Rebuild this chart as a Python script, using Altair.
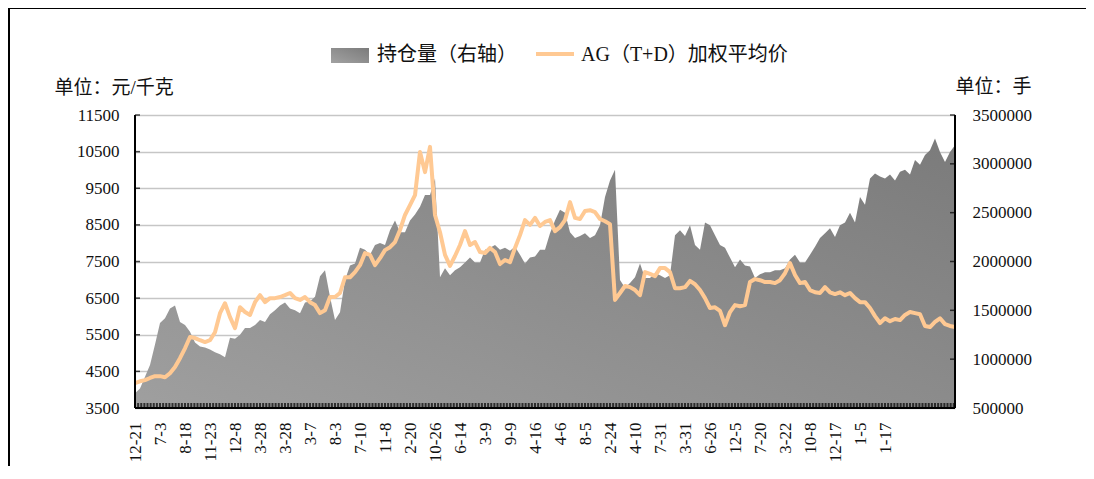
import altair as alt
import pandas as pd

# ---------------- data ----------------
date_labels = ["12-21", "7-3", "8-18", "11-23", "12-8", "3-28", "3-28", "3-7", "8-3",
               "7-10", "11-8", "2-20", "10-26", "6-14", "3-9", "9-9", "4-16", "4-6",
               "8-5", "2-24", "4-10", "7-31", "3-31", "6-26", "12-5", "7-20", "3-22",
               "10-8", "12-17", "1-5", "1-17"]

# AG(T+D) weighted average price, yuan/kg (left axis)
price = [4180, 4230, 4260, 4320, 4370, 4370, 4340, 4450, 4620, 4860,
         5130, 5440, 5410, 5350, 5300, 5350, 5570, 6090, 6360, 5980,
         5680, 6250, 6120, 6040, 6390, 6580, 6390, 6500, 6500, 6530,
         6580, 6640, 6500, 6450, 6530, 6390, 6310, 6090, 6170, 6530,
         6530, 6640, 7070, 7070, 7210, 7400, 7730, 7680, 7400, 7590,
         7810, 7890, 8030, 8360, 8770, 9040, 9310, 10490, 9940, 10630,
         8770, 8300, 7680, 7380, 7650, 7950, 8330, 7950, 8030, 7760,
         7730, 7870, 7760, 7430, 7540, 7480, 7870, 8220, 8630, 8500,
         8690, 8470, 8580, 8630, 8330, 8440, 8630, 9120, 8690, 8660,
         8880, 8900, 8850, 8660, 8600, 8520, 6450, 6640, 6830, 6800,
         6720, 6580, 7210, 7160, 7100, 7320, 7320, 7210, 6770, 6770,
         6800, 6970, 6880, 6720, 6500, 6230, 6250, 6150, 5760, 6120,
         6310, 6280, 6310, 6940, 7020, 6990, 6940, 6940, 6910, 6990,
         7180, 7460, 7130, 6910, 6940, 6720, 6660, 6640, 6800, 6660,
         6610, 6660, 6580, 6640, 6500, 6390, 6390, 6230, 6010, 5820,
         5950, 5870, 5930, 5900, 6040, 6120, 6090, 6060, 5740, 5710,
         5850, 5950, 5790, 5740, 5710]

# open interest, lots (right axis)
open_interest = [650000, 700000, 820000, 940000, 1150000, 1370000, 1420000, 1520000, 1550000, 1380000,
                 1350000, 1280000, 1170000, 1130000, 1120000, 1100000, 1070000, 1050000, 1020000, 1220000,
                 1210000, 1250000, 1320000, 1320000, 1350000, 1400000, 1380000, 1460000, 1500000, 1550000,
                 1580000, 1520000, 1500000, 1470000, 1580000, 1590000, 1640000, 1850000, 1910000, 1640000,
                 1400000, 1480000, 1810000, 1960000, 1980000, 2140000, 2120000, 2070000, 2170000, 2190000,
                 2170000, 2320000, 2420000, 2300000, 2300000, 2420000, 2480000, 2560000, 2680000, 2680000,
                 2850000, 1840000, 1930000, 1860000, 1910000, 1940000, 1990000, 2040000, 1990000, 1990000,
                 2120000, 2140000, 2170000, 2120000, 2140000, 2110000, 2150000, 2070000, 1980000, 2040000,
                 2050000, 2120000, 2120000, 2290000, 2420000, 2530000, 2500000, 2300000, 2240000, 2260000,
                 2290000, 2240000, 2270000, 2370000, 2660000, 2830000, 2940000, 1810000, 1730000, 1780000,
                 1840000, 1980000, 1830000, 1830000, 1880000, 1860000, 1830000, 1860000, 2270000, 2320000,
                 2260000, 2370000, 2170000, 2120000, 2400000, 2370000, 2270000, 2170000, 2140000, 2040000,
                 1940000, 2020000, 1960000, 1950000, 1830000, 1870000, 1890000, 1890000, 1910000, 1910000,
                 1930000, 2020000, 2070000, 1990000, 1990000, 2070000, 2150000, 2240000, 2290000, 2340000,
                 2250000, 2370000, 2400000, 2500000, 2400000, 2660000, 2580000, 2850000, 2900000, 2870000,
                 2850000, 2890000, 2830000, 2920000, 2940000, 2890000, 3040000, 2990000, 3090000, 3140000,
                 3260000, 3120000, 3020000, 3120000, 3190000]

price_ticks = [3500, 4500, 5500, 6500, 7500, 8500, 9500, 10500, 11500]
oi_ticks = [500000, 1000000, 1500000, 2000000, 2500000, 3000000, 3500000]

series_price_name = "AG（T+D）加权平均价"
series_oi_name = "持仓量（右轴）"
left_unit = "单位：元/千克"
right_unit = "单位：手"

# ---------------- layout / style ----------------
W, H = 820, 293
LABEL_STEP = 5
TICK_STEP = 0.625
NUM_FONT = "Liberation Serif"
CJK_FONT = "Liberation Serif, Noto Sans CJK SC"
ORANGE = "#FFC993"
TXT = "#111111"

N = len(price)
df = pd.DataFrame({"idx": list(range(N)), "price": price, "oi": open_interest})
one = pd.DataFrame({"k": [0]})
band_df = pd.DataFrame({"idx": [k * TICK_STEP for k in range(int((N - 1) / TICK_STEP) + 1)]})
pt_df = pd.DataFrame({"price": price_ticks})
ot_df = pd.DataFrame({"oi": oi_ticks})

label_js = "[" + ",".join("'%s'" % s for s in date_labels) + "]"
label_expr = label_js + "[round(datum.value / %d)]" % LABEL_STEP

x_scale = alt.Scale(domain=[0, N - 1], nice=False, zero=False)
x_axis = alt.Axis(values=[i * LABEL_STEP for i in range(len(date_labels))],
                  labelExpr=label_expr, labelAngle=270, labelFont=NUM_FONT,
                  labelFontSize=17, labelColor=TXT, labelPadding=14,
                  labelOverlap=False, labelFlush=False, labelBound=False,
                  ticks=False, domain=False, grid=False, title=None)

price_scale = alt.Scale(domain=[3500, 11500], nice=False, zero=False)
oi_scale = alt.Scale(domain=[500000, 3500000], nice=False, zero=False)

left_axis = alt.Axis(orient="left", values=price_ticks, format="d", grid=True,
                     gridColor="#c6c6c6", gridWidth=1.5, domain=False, ticks=False,
                     labelFont=NUM_FONT, labelFontSize=17, labelColor=TXT, labelPadding=16,
                     title=left_unit, titleAngle=0, titleX=-81, titleY=-28,
                     titleAlign="left", titleBaseline="middle", titleFont=CJK_FONT,
                     titleFontSize=19, titleFontWeight="normal", titleColor=TXT)
right_axis = alt.Axis(orient="right", values=oi_ticks, format="d", grid=False,
                      domain=False, ticks=False, labelFont=NUM_FONT, labelFontSize=17,
                      labelColor=TXT, labelPadding=17,
                      title=right_unit, titleAngle=0, titleX=0, titleY=-29,
                      titleAlign="left", titleBaseline="middle", titleFont=CJK_FONT,
                      titleFontSize=19, titleFontWeight="normal", titleColor=TXT)

gray_grad = alt.Gradient(gradient="linear",
                         stops=[alt.GradientStop(color="#a2a2a2", offset=0),
                                alt.GradientStop(color="#7b7b7b", offset=1)],
                         x1=0, y1=1, x2=1, y2=0)

# ---------------- right-axis layer (open interest) ----------------
area = alt.Chart(df).mark_area(color=gray_grad, interpolate="linear", clip=True).encode(
    x=alt.X("idx:Q", scale=x_scale, axis=x_axis),
    y=alt.Y("oi:Q", scale=oi_scale, axis=right_axis),
)
right_ticks = alt.Chart(ot_df).mark_tick(orient="horizontal", size=5, thickness=1.5,
                                         color="#000").encode(
    x=alt.value(W - 2.5),
    y=alt.Y("oi:Q", scale=oi_scale, axis=right_axis),
)
right_layer = alt.layer(area, right_ticks)

# ---------------- left-axis layer (price) ----------------
line = alt.Chart(df).mark_line(color=ORANGE, strokeWidth=4, interpolate="linear",
                               strokeJoin="round").encode(
    x=alt.X("idx:Q", scale=x_scale, axis=x_axis),
    y=alt.Y("price:Q", scale=price_scale, axis=left_axis),
)
left_ticks = alt.Chart(pt_df).mark_tick(orient="horizontal", size=5, thickness=1.5,
                                        color="#000").encode(
    x=alt.value(2.5),
    y=alt.Y("price:Q", scale=price_scale, axis=left_axis),
)
left_layer = alt.layer(line, left_ticks)

# ---------------- bottom tick band & frame ----------------
band = alt.Chart(band_df).mark_tick(orient="vertical", size=5, thickness=2,
                                    color="#000").encode(
    x=alt.X("idx:Q", scale=x_scale, axis=x_axis),
    y=alt.value(H - 2.5),
)

def rule(**enc):
    return alt.Chart(one).mark_rule(color="#000", strokeWidth=2).encode(**enc)

dom_left = rule(x=alt.value(0), y=alt.value(0), y2=alt.value(H))
dom_right = rule(x=alt.value(W), y=alt.value(0), y2=alt.value(H))
dom_bottom = rule(x=alt.value(0), x2=alt.value(W), y=alt.value(H))
frame_top = rule(x=alt.value(-126), x2=alt.value(951), y=alt.value(-107))
frame_left = rule(x=alt.value(-126), y=alt.value(-107), y2=alt.value(H + 70))

# ---------------- legend ----------------
leg_box = alt.Chart(one).mark_rect(color=gray_grad).encode(
    x=alt.value(196), x2=alt.value(234), y=alt.value(-67), y2=alt.value(-52))
leg_line = alt.Chart(one).mark_rule(color=ORANGE, strokeWidth=4).encode(
    x=alt.value(401), x2=alt.value(439), y=alt.value(-61))
leg_t1 = alt.Chart(one).mark_text(align="left", baseline="middle", font=CJK_FONT,
                                  fontSize=20, color=TXT).encode(
    x=alt.value(242), y=alt.value(-60), text=alt.value(series_oi_name))
leg_t2 = alt.Chart(one).mark_text(align="left", baseline="middle", font=CJK_FONT,
                                  fontSize=20, color=TXT).encode(
    x=alt.value(446), y=alt.value(-60), text=alt.value(series_price_name))

chart = alt.layer(
    right_layer, left_layer, band, dom_left, dom_right, dom_bottom,
    frame_top, frame_left, leg_box, leg_line, leg_t1, leg_t2,
).resolve_scale(y="independent").properties(
    width=W, height=H,
    padding={"left": 127, "top": 107, "right": 131, "bottom": 58},
    autosize=alt.AutoSizeParams(type="none"),
).configure_view(stroke=None)

chart.save("out.html", embed_options={"renderer": "svg", "actions": False})
